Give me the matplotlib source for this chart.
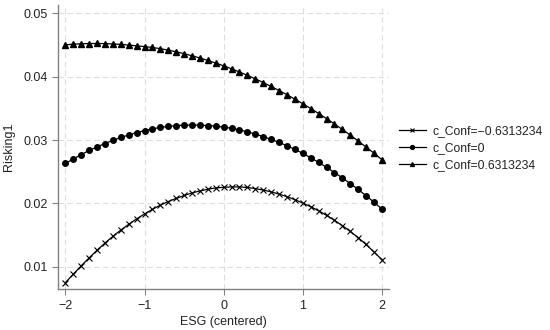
import matplotlib
matplotlib.use("Agg")
import matplotlib.pyplot as plt

plt.rcParams['font.family'] = ['Liberation Sans', 'DejaVu Sans']

esg = [-2.0, -1.9, -1.8, -1.7, -1.6, -1.5, -1.4, -1.3, -1.2, -1.1,
       -1.0, -0.9, -0.8, -0.7, -0.6, -0.5, -0.4, -0.3, -0.2, -0.1,
       0.0, 0.1, 0.2, 0.3, 0.4, 0.5, 0.6, 0.7, 0.8, 0.9,
       1.0, 1.1, 1.2, 1.3, 1.4, 1.5, 1.6, 1.7, 1.8, 1.9, 2.0]

conf_neg = [0.0075, 0.00884, 0.01015, 0.01141, 0.01261, 0.01375, 0.0148, 0.01579, 0.0167, 0.01755,
            0.01833, 0.01906, 0.01973, 0.02029, 0.02079, 0.02125, 0.02165, 0.02197, 0.02224, 0.02244,
            0.02254, 0.0226, 0.0226, 0.02252, 0.02233, 0.02211, 0.02182, 0.02147, 0.02106, 0.02059,
            0.02006, 0.01948, 0.01884, 0.01811, 0.01734, 0.0165, 0.01558, 0.0146, 0.01352, 0.01233, 0.01112]

conf_zero = [0.0263, 0.0270, 0.0277, 0.02835, 0.02892, 0.02945, 0.02994, 0.0304, 0.0308, 0.03117,
             0.03149, 0.03176, 0.03198, 0.03215, 0.03227, 0.03234, 0.03236, 0.03234, 0.03228, 0.03218,
             0.03204, 0.03184, 0.0316, 0.0313, 0.03094, 0.03054, 0.0301, 0.02962, 0.0291, 0.02853,
             0.02789, 0.0272, 0.02646, 0.02569, 0.02487, 0.02402, 0.02313, 0.0222, 0.02121, 0.02018, 0.0191]

conf_pos = [0.04502, 0.04512, 0.04518, 0.04522, 0.04523, 0.04521, 0.04516, 0.04508, 0.04498, 0.04486,
            0.04474, 0.0446, 0.04441, 0.04418, 0.04392, 0.04362, 0.04329, 0.04294, 0.04255, 0.04214,
            0.0417, 0.04123, 0.04073, 0.0402, 0.03965, 0.03907, 0.03845, 0.03781, 0.03714, 0.03645,
            0.03572, 0.03497, 0.03418, 0.03337, 0.03253, 0.03167, 0.03077, 0.02984, 0.02889, 0.02791, 0.0269]

labels = ["c_Conf=\u22120.6313234", "c_Conf=0", "c_Conf=0.6313234"]
xticks = [-2, -1, 0, 1, 2]
xticklabels = ["\u22122", "\u22121", "0", "1", "2"]
yticks = [0.01, 0.02, 0.03, 0.04, 0.05]
yticklabels = ["0.01", "0.02", "0.03", "0.04", "0.05"]

fig = plt.figure(figsize=(5.5, 3.3), dpi=100)
ax = fig.add_axes([58 / 550, 1 - 289.3 / 330, (389 - 58) / 550, (289.3 - 5) / 330])

ax.plot(esg, conf_neg, color='black', lw=0.9, marker='x', markersize=4.2, markeredgewidth=0.8, label=labels[0])
ax.plot(esg, conf_zero, color='black', lw=0.9, marker='o', markersize=4.0, label=labels[1])
ax.plot(esg, conf_pos, color='black', lw=0.9, marker='^', markersize=4.0, label=labels[2])

ax.set_xlim(-2.093, 2.089)
ax.set_ylim(0.00645, 0.0513)
ax.set_xticks(xticks)
ax.set_xticklabels(xticklabels)
ax.set_yticks(yticks)
ax.set_yticklabels(yticklabels)

ax.grid(True, color='#dedede', linestyle=(0, (5, 3)), linewidth=0.8)
ax.set_axisbelow(True)
for s in ['top', 'right']:
    ax.spines[s].set_visible(False)
for s in ['left', 'bottom']:
    ax.spines[s].set_color('#808080')
    ax.spines[s].set_linewidth(1.0)
ax.tick_params(axis='both', colors='#808080', labelcolor='#222222', labelsize=9, length=4, width=0.8)

ax.set_xlabel("ESG (centered)", fontsize=9, color='#222222', labelpad=3)
ax.set_ylabel("Risking1", fontsize=9, color='#222222', labelpad=6)

leg = fig.legend(handles=ax.get_lines(), labels=labels, loc='center left',
                 bbox_to_anchor=(399 / 550, 1 - 148 / 330), bbox_transform=fig.transFigure,
                 frameon=False, fontsize=8.7, borderpad=0, borderaxespad=0,
                 handlelength=2.2, handletextpad=0.6, labelspacing=0.4, markerscale=0.7)
for t in leg.get_texts():
    t.set_color('#222222')

fig.savefig("out.png", dpi=100)
